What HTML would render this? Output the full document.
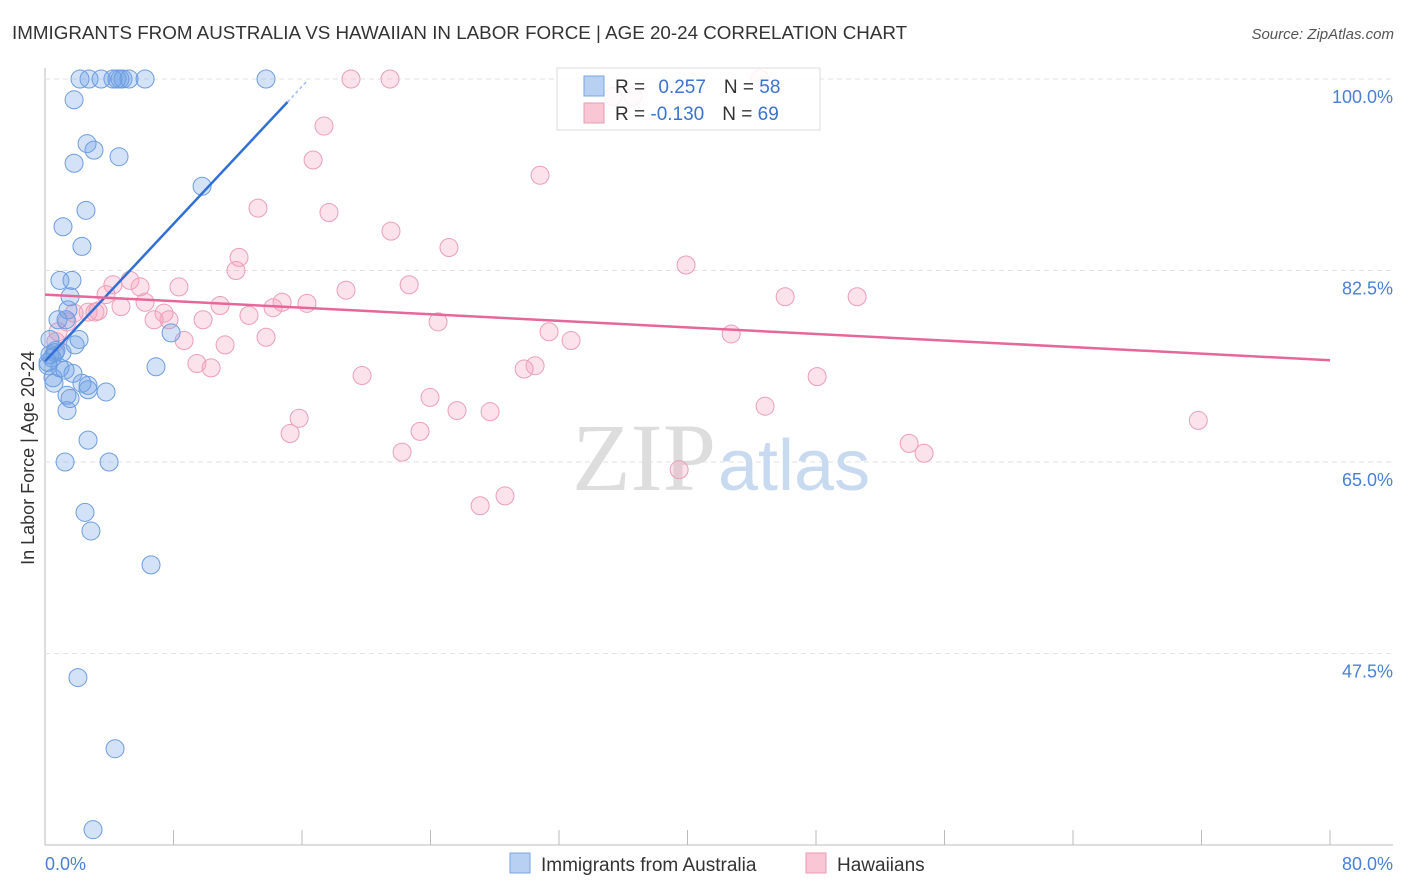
<!DOCTYPE html>
<html><head><meta charset="utf-8"><style>
body{margin:0;background:#fff;font-family:"Liberation Sans",sans-serif}
</style></head><body>
<svg width="1406" height="892" style="display:block">
<text x="12" y="39" font-size="18.8" fill="#333">IMMIGRANTS FROM AUSTRALIA VS HAWAIIAN IN LABOR FORCE | AGE 20-24 CORRELATION CHART</text>
<text x="1394" y="39" font-size="15" fill="#555" font-style="italic" text-anchor="end">Source: ZipAtlas.com</text>
<g id="grid"></g>
<text x="716" y="490" font-size="96" font-family="Liberation Serif" fill="#ddd" text-anchor="end">ZIP</text>
<text x="718" y="490" font-size="72" fill="#c8daf0">atlas</text>
<g id="pts"></g>
<g id="lines"></g>
<g>
<rect x="557" y="68" width="263" height="62" fill="rgba(255,255,255,0.85)" stroke="#ddd"/>
<rect x="584" y="76" width="20" height="20" fill="#b8d1f3" stroke="#7aa5e0"/>
<rect x="584" y="103" width="20" height="20" fill="#f8c6d5" stroke="#ea9ab4"/>
<text x="615" y="93" font-size="19" fill="#333">R = <tspan fill="#3a73d0" dx="8">0.257</tspan><tspan dx="18">N = </tspan><tspan fill="#3a73d0">58</tspan></text>
<text x="615" y="120" font-size="19" fill="#333">R = <tspan fill="#3a73d0">-0.130</tspan><tspan dx="18">N = </tspan><tspan fill="#3a73d0">69</tspan></text>
</g>
<text transform="translate(34,458) rotate(-90)" font-size="18" fill="#333" text-anchor="middle">In Labor Force | Age 20-24</text>
<text x="45" y="870" font-size="18" fill="#4a7fd6">0.0%</text>
<text x="1393" y="870" font-size="18" fill="#4a7fd6" text-anchor="end">80.0%</text>
<g>
<rect x="510" y="853" width="20" height="20" fill="#b8d1f3" stroke="#7aa5e0"/>
<text x="541" y="871" font-size="19" fill="#333">Immigrants from Australia</text>
<rect x="806" y="853" width="20" height="20" fill="#f8c6d5" stroke="#ea9ab4"/>
<text x="837" y="871" font-size="19" fill="#333">Hawaiians</text>
</g>
</svg>
<script>
const yTicks=[100,82.5,65,47.5];
const blueX=[2.18,2.74,3.49,4.23,4.48,4.67,4.86,5.23,6.23,13.76,1.81,2.62,3.05,4.61,1.81,9.78,2.55,1.12,2.30,0.93,1.68,1.56,1.43,0.81,2.12,1.87,7.85,0.62,1.06,0.31,0.44,0.19,0.93,0.19,6.91,1.74,1.25,0.50,0.56,2.30,2.68,3.80,1.37,1.56,1.37,2.68,1.25,3.99,2.49,2.86,6.60,2.05,4.36,2.99,0.68,1.31,2.68,0.31];
const blueY=[100,100,100,100,100,100,100,100,100,100,98.1,94.1,93.5,92.9,92.3,90.2,88.0,86.5,84.7,81.6,81.6,80.1,78.9,78.0,76.2,75.7,76.8,75.0,75.0,74.8,74.5,74.1,73.6,73.8,73.7,73.1,73.4,72.7,72.2,72.2,71.6,71.4,71.1,70.8,69.7,67.0,65.0,65.0,60.4,58.7,55.6,45.3,38.8,31.4,75.2,78.0,72.0,76.2];
const pinkX=[19.05,21.48,44.51,35.36,36.60,17.37,16.69,30.82,13.26,17.68,21.54,25.15,12.08,11.89,39.91,5.29,4.23,5.92,8.34,18.74,22.67,46.08,50.56,3.80,6.23,10.90,16.31,14.76,4.73,14.20,3.11,2.68,1.81,3.30,7.41,7.72,6.79,12.70,9.84,1.37,24.47,0.81,31.38,42.72,8.66,32.75,13.76,11.21,0.68,9.46,10.34,30.51,29.83,19.74,48.07,23.97,44.83,25.65,27.71,15.82,15.26,23.35,71.80,53.80,54.73,22.23,39.48,27.09,28.64];
const pinkY=[100,100,100,98.4,98.4,95.7,92.6,91.2,88.2,87.8,86.1,84.6,83.7,82.5,83.0,81.6,81.2,81.0,81.0,80.7,81.2,80.1,80.1,80.3,79.6,79.3,79.5,79.6,79.2,79.1,78.7,78.7,78.6,78.8,78.6,78.0,78.0,78.4,78.0,77.8,77.8,76.9,76.9,76.7,76.1,76.1,76.4,75.7,76.0,74.0,73.6,73.8,73.5,72.9,72.8,70.9,70.1,69.7,69.6,69.0,67.6,67.8,68.8,66.7,65.8,65.9,64.3,61.0,61.9];
const blueTrend=[[0,74.2],[15.1,97.9],[16.3,99.8]];
const pinkTrend=[[0,80.3],[80,74.3]];
const X=v=>45+v/80*1285, Y=v=>79+(100-v)/17.5*191.5;
const NS='http://www.w3.org/2000/svg';
function mk(t,a,p){const e=document.createElementNS(NS,t);for(const k in a)e.setAttribute(k,a[k]);p.appendChild(e);return e;}
const g=document.getElementById('grid');
mk('line',{x1:45,y1:68,x2:45,y2:845,stroke:'#bbb'},g);
mk('line',{x1:45,y1:845,x2:1393,y2:845,stroke:'#bbb'},g);
for(let i=0;i<=10;i++){const l=mk('line',{x1:X(i*8),y1:830,x2:X(i*8),y2:845,stroke:'#bbb'},g);

}
yTicks.forEach(t=>{const l=mk('line',{x1:45,y1:Y(t),x2:1393,y2:Y(t),stroke:'#e2e2e2','stroke-dasharray':'5,4'},g);


const tx=mk('text',{x:1393,y:Y(t)+24,'font-size':18,fill:'#4a7fd6','text-anchor':'end'},g);tx.textContent=t.toFixed(1)+'%';

});
const p=document.getElementById('pts');
pinkX.forEach((x,i)=>{const c=mk('circle',{cx:X(x),cy:Y(pinkY[i]),r:9,fill:'rgba(244,160,188,0.3)',stroke:'#eb9fb8','stroke-width':1},p);

});
blueX.forEach((x,i)=>{const c=mk('circle',{cx:X(x),cy:Y(blueY[i]),r:9,fill:'rgba(110,160,230,0.3)',stroke:'#6d9de0','stroke-width':1},p);

});
const L=document.getElementById('lines');
let bl=mk('line',{x1:X(blueTrend[0][0]),y1:Y(blueTrend[0][1]),x2:X(blueTrend[1][0]),y2:Y(blueTrend[1][1]),stroke:'#2f6fd6','stroke-width':2.5},L);


let bd=mk('line',{x1:X(blueTrend[1][0]),y1:Y(blueTrend[1][1]),x2:X(blueTrend[2][0]),y2:Y(blueTrend[2][1]),stroke:'#9bbbe8','stroke-width':1.5,'stroke-dasharray':'3,3'},L);


let pl=mk('line',{x1:X(pinkTrend[0][0]),y1:Y(pinkTrend[0][1]),x2:X(pinkTrend[1][0]),y2:Y(pinkTrend[1][1]),stroke:'#e8679a','stroke-width':2.5},L);


</script>
</body></html>
